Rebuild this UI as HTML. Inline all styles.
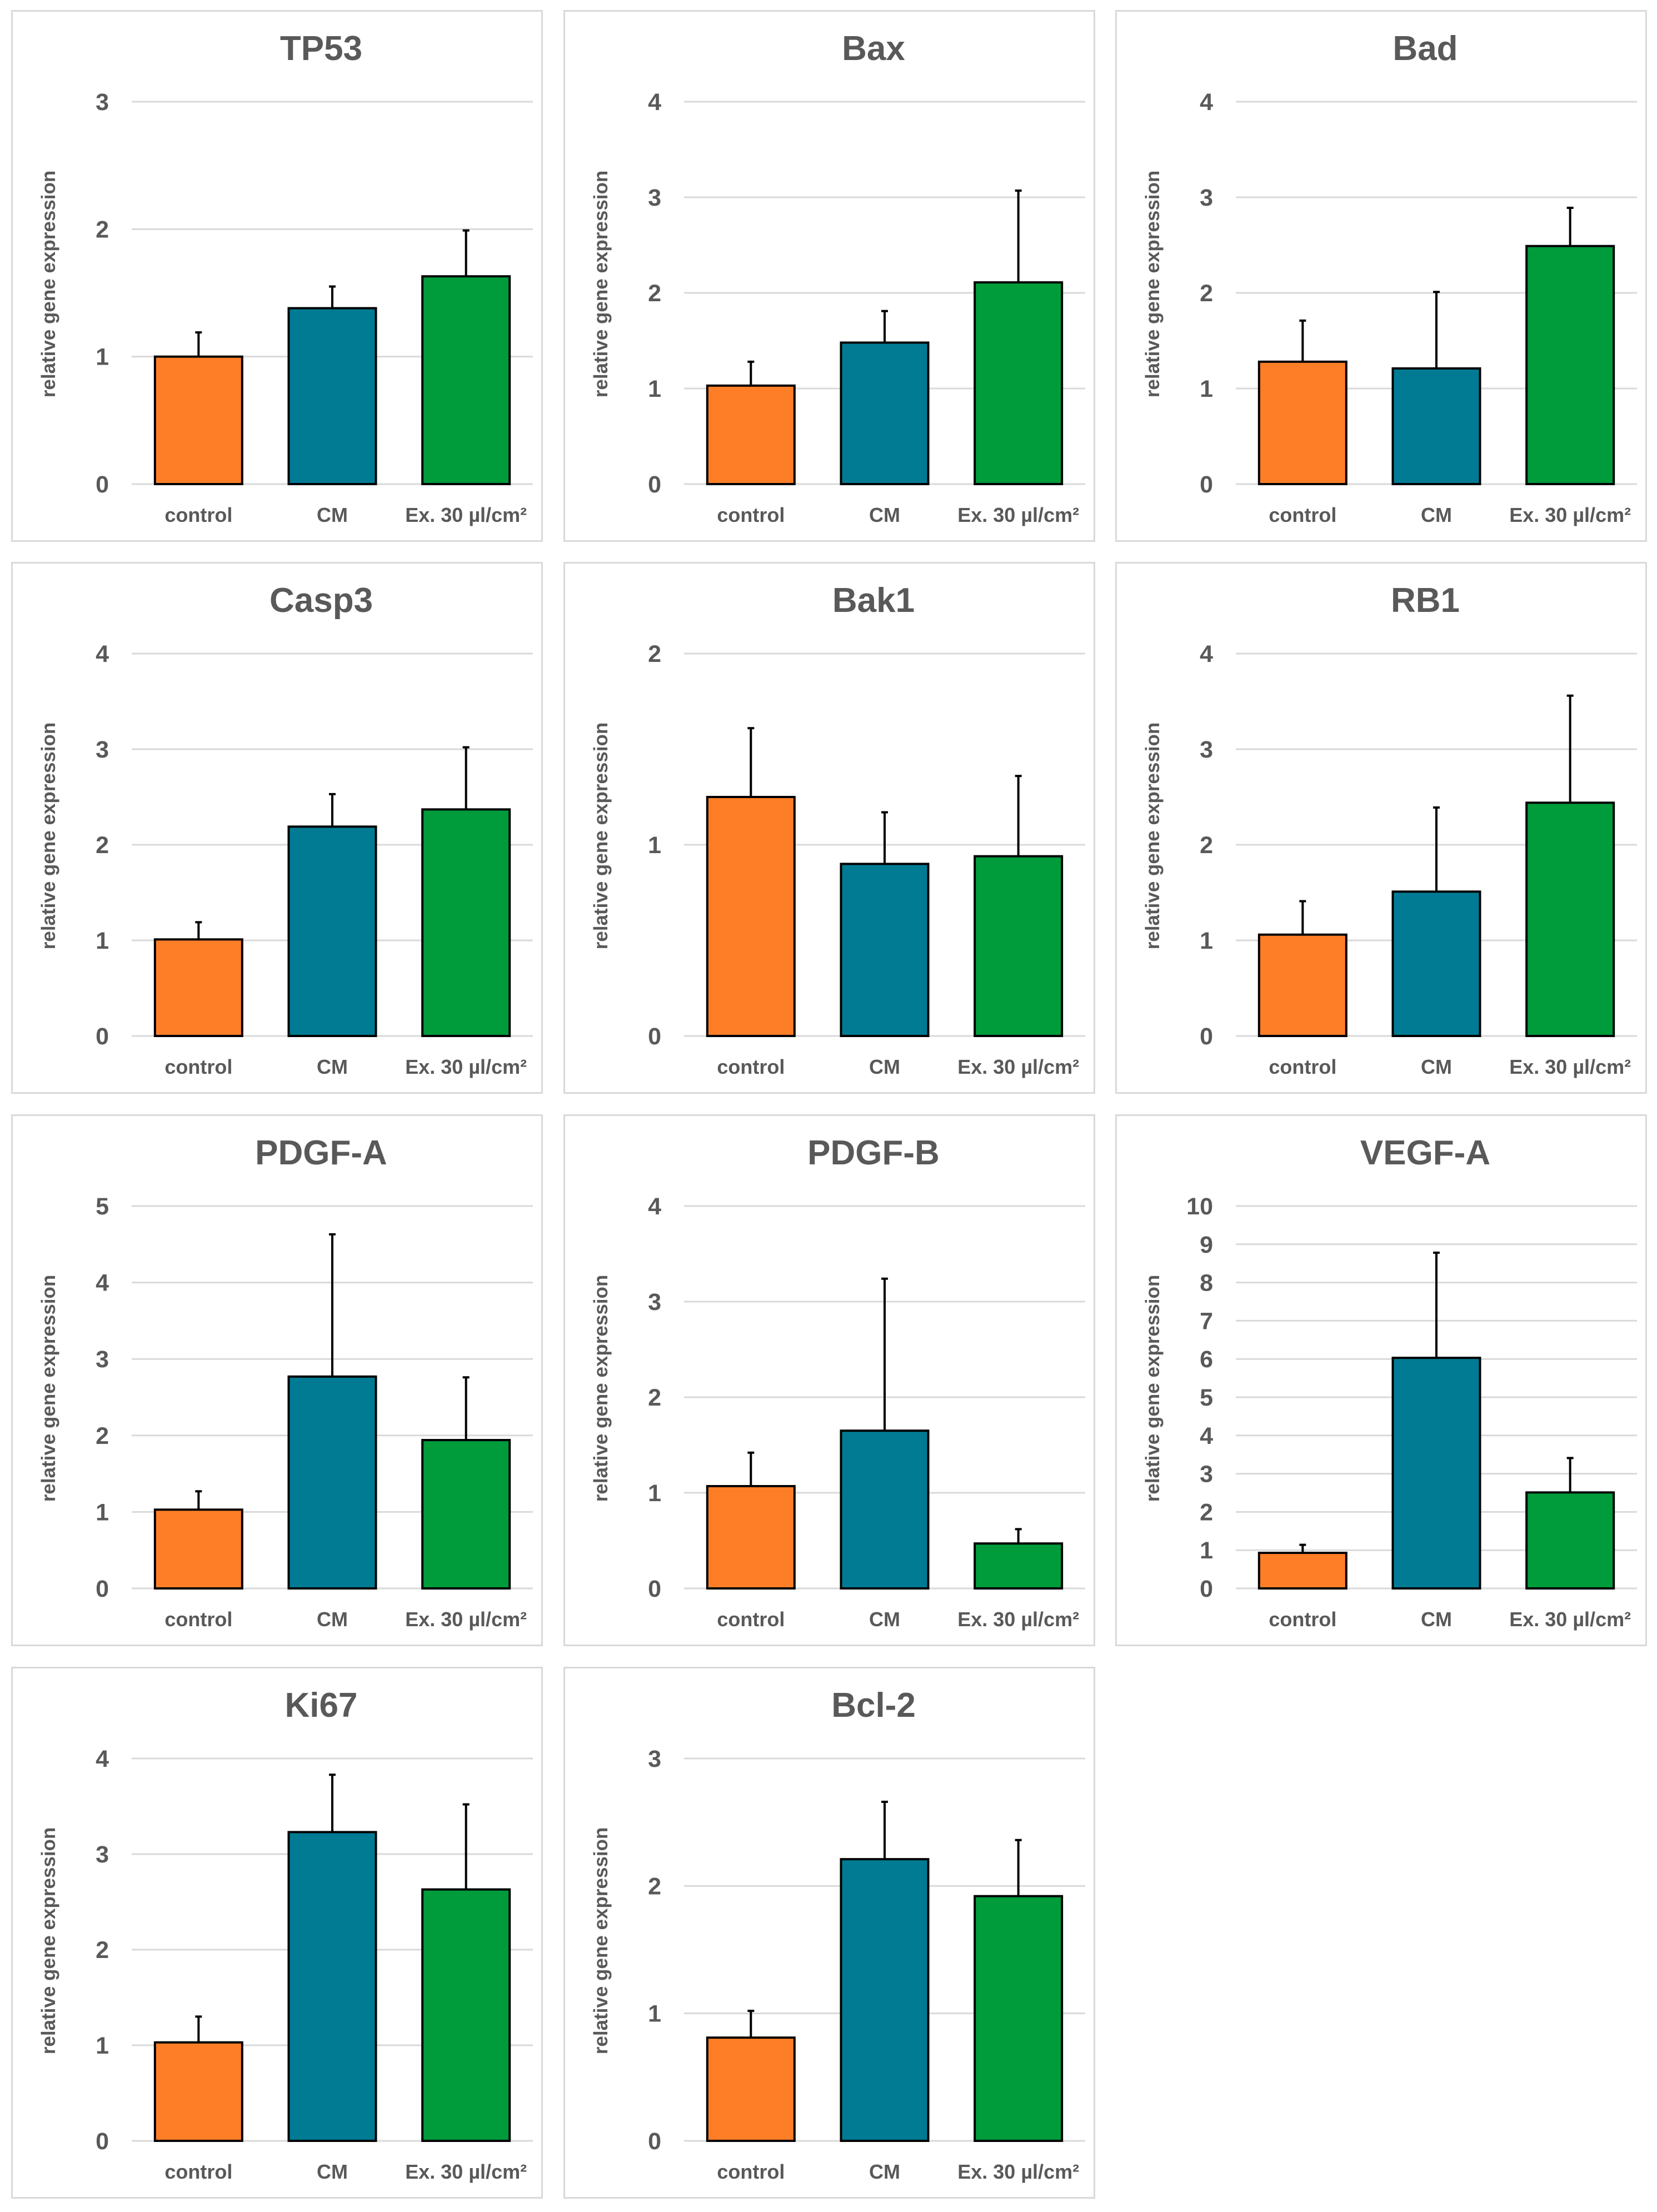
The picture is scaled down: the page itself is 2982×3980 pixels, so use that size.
<!DOCTYPE html>
<html><head><meta charset="utf-8"><style>
html,body{margin:0;padding:0;background:#fff;}
svg{display:block;font-family:"Liberation Sans",sans-serif;}
</style></head><body>
<svg id="fig" width="2982" height="3980" viewBox="0 0 2982 3980"></svg>
<script>
const titles = ["TP53","Bax","Bad","Casp3","Bak1","RB1","PDGF-A","PDGF-B","VEGF-A","Ki67","Bcl-2"];
const yMax = [3,4,4,4,2,4,5,4,10,4,3];
const categories = ["control","CM","Ex. 30 µl/cm²"];
const controlValues = [1.00,1.03,1.28,1.01,1.25,1.06,1.03,1.07,0.93,1.03,0.81];
const cmValues      = [1.38,1.48,1.21,2.19,0.90,1.51,2.77,1.65,6.03,3.23,2.21];
const exValues      = [1.63,2.11,2.49,2.37,0.94,2.44,1.94,0.47,2.51,2.63,1.92];
const controlErrTop = [1.19,1.28,1.71,1.19,1.61,1.41,1.27,1.42,1.14,1.30,1.02];
const cmErrTop      = [1.55,1.81,2.01,2.53,1.17,2.39,4.63,3.24,8.78,3.83,2.66];
const exErrTop      = [1.99,3.07,2.89,3.02,1.36,3.56,2.76,0.62,3.41,3.52,2.36];

const colors = ["#FD7E27","#017B93","#009B3A"];
const NS = "http://www.w3.org/2000/svg";
const svg = document.getElementById("fig");
function mk(tag, attrs, parent){
  const e = document.createElementNS(NS, tag);
  for (const k in attrs) e.setAttribute(k, attrs[k]);
  parent.appendChild(e);
  return e;
}
const colX = [20,1014,2007], rowY = [18,1011,2005,2999];
const PW = 957, PH = 957;
const gx0 = 217, gx1 = 939, gyTop = 165, gy0 = 853;
const band = (gx1-gx0)/3, barW = 157;

titles.forEach((t, i) => {
  const px = colX[i%3], py = rowY[Math.floor(i/3)];
  const g = mk("g", {transform:`translate(${px},${py})`}, svg);
  
  
  const frame = mk("rect", {x:1.5,y:1.5,width:PW-3,height:PH-3,fill:"#fff",stroke:"#d9d9d9","stroke-width":3}, g);
  
  
  const ttl = mk("text", {x:(gx0+gx1)/2 - 20, y:90, "text-anchor":"middle","font-size":62,"font-weight":"bold",fill:"#595959"}, g);
  ttl.textContent = t;
  
  
  const ymax = yMax[i];
  const y = v => gy0 - (v/ymax)*(gy0-gyTop);
  for (let k=0;k<=ymax;k++){
    const gl = mk("line", {x1:gx0,x2:gx1,y1:y(k),y2:y(k),stroke:"#d9d9d9","stroke-width":3}, g);
    
    
    const tl = mk("text", {x:176,y:y(k)+15,"text-anchor":"end","font-size":43,"font-weight":"bold",fill:"#595959"}, g);
    tl.textContent = String(k);
    
    
  }
  const yt = mk("text", {x:0,y:0,transform:`translate(79,493) rotate(-90)`,"text-anchor":"middle","font-size":35,"font-weight":"bold",fill:"#595959"}, g);
  yt.textContent = "relative gene expression";
  
  
  const vals = [controlValues[i], cmValues[i], exValues[i]];
  const tops = [controlErrTop[i], cmErrTop[i], exErrTop[i]];
  vals.forEach((v, j) => {
    const cx = gx0 + band*(j+0.5);
    const eb = mk("line", {x1:cx,x2:cx,y1:y(v),y2:y(tops[j]),stroke:"#000","stroke-width":4}, g);
    
    
    const cap = mk("line", {x1:cx-6,x2:cx+6,y1:y(tops[j]),y2:y(tops[j]),stroke:"#000","stroke-width":4}, g);
    
    
    const b = mk("rect", {x:cx-barW/2,y:y(v),width:barW,height:gy0-y(v),fill:colors[j],stroke:"#000","stroke-width":4}, g);
    
    
    const cl = mk("text", {x:cx,y:921,"text-anchor":"middle","font-size":36,"font-weight":"bold",fill:"#595959"}, g);
    cl.textContent = categories[j];
    
    
  });
});
</script>
</body></html>
